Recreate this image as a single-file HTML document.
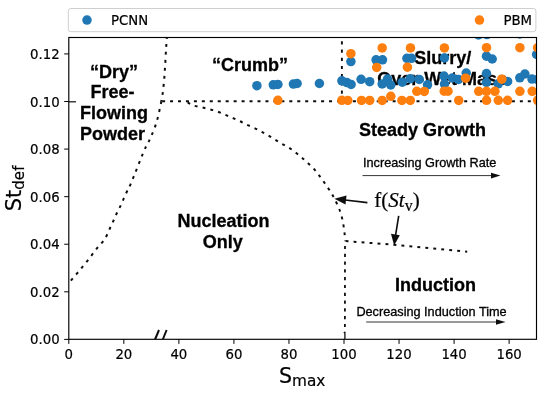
<!DOCTYPE html>
<html><head><meta charset="utf-8"><title>Regime map</title>
<style>
html,body{margin:0;padding:0;background:#fff;}
body{width:550px;height:394px;overflow:hidden;}
svg{display:block;}
.dv{font-family:"DejaVu Sans","Liberation Sans",sans-serif;fill:#000;stroke:#000;stroke-width:0.2px;}
.ab{font-family:"Liberation Sans",Arial,sans-serif;font-weight:bold;font-size:18px;fill:#000;text-anchor:middle;stroke:#000;stroke-width:0.3px;}
.ar{font-family:"Liberation Sans",Arial,sans-serif;font-size:12.7px;fill:#000;stroke:#000;stroke-width:0.32px;}
.tm{font-family:"Liberation Serif","Times New Roman",serif;fill:#000;}
.dot{fill:none;stroke:#111;stroke-width:2;stroke-dasharray:2.9 5.1;}
</style></head><body>
<svg width="550" height="394" viewBox="0 0 550 394">
<rect width="550" height="394" fill="#fff"/>
<defs><filter id="soft" x="-2%" y="-2%" width="104%" height="104%"><feGaussianBlur stdDeviation="0.38"/></filter><clipPath id="ax"><rect x="68.8" y="37.5" width="467.7" height="301.8"/></clipPath></defs>

<g clip-path="url(#ax)"><g filter="url(#soft)">
<path class="dot" d="M166.9 36.0 C166.8 38.0 166.4 43.5 166.1 48.0 C165.8 52.5 165.6 57.7 165.3 62.7 C165.0 67.7 164.7 73.0 164.3 78.1 C163.9 83.2 163.2 89.4 162.7 93.3 C162.2 97.2 161.5 100.0 161.3 101.3"/>
<path class="dot" d="M161.3 101.3 C161.1 102.4 160.9 104.2 160.0 108.0 C159.1 111.8 157.7 118.9 156.0 124.0 C154.3 129.1 152.1 134.2 150.1 138.7 C148.1 143.2 147.2 143.5 144.0 151.0 C140.8 158.5 133.7 176.8 130.9 183.5 C128.1 190.2 128.3 188.7 127.1 191.2 C125.9 193.7 124.8 196.2 123.7 198.7 C122.6 201.1 121.6 203.6 120.5 205.9 C119.4 208.2 118.1 210.5 117.0 212.8 C115.9 215.2 114.9 217.6 113.8 220.0 C112.7 222.4 111.4 225.1 110.3 227.5 C109.2 229.9 108.3 232.4 107.1 234.7 C105.9 237.0 104.6 239.3 103.1 241.3 C101.6 243.3 99.9 244.8 98.3 246.7 C96.7 248.6 95.1 250.7 93.5 252.8 C91.9 254.9 90.2 257.3 88.5 259.5 C86.8 261.7 84.9 263.9 83.1 266.1 C81.3 268.3 79.6 270.4 77.8 272.5 C76.0 274.6 74.1 276.8 72.5 278.7 C70.9 280.6 68.8 283.1 68.0 284.0"/>
<path class="dot" d="M162.1 101.3 L537 101.3" style="stroke-dasharray:3 4.95;stroke-width:1.9"/>
<path class="dot" d="M187.6 102.4 C188.6 102.9 191.3 104.7 193.6 105.5 C195.9 106.3 198.9 106.7 201.5 107.3 C204.1 107.9 206.4 108.4 209.1 109.1 C211.8 109.8 214.8 110.5 217.5 111.5 C220.2 112.5 222.7 113.8 225.2 114.8 C227.7 115.8 229.9 116.8 232.3 117.8 C234.7 118.8 237.3 119.9 239.7 121.1 C242.1 122.2 244.4 123.5 246.8 124.7 C249.2 125.9 251.9 126.8 254.4 128.0 C256.9 129.2 259.3 130.5 261.6 131.8 C263.9 133.1 266.1 134.2 268.4 135.6 C270.7 136.9 273.1 138.5 275.3 139.9 C277.6 141.3 279.6 142.5 281.9 143.8 C284.1 145.1 286.6 146.2 288.8 147.6 C291.0 149.0 293.1 150.6 295.2 152.2 C297.3 153.8 299.5 155.6 301.5 157.3 C303.5 159.0 305.1 160.5 307.1 162.3 C309.1 164.1 311.5 166.2 313.3 168.2 C315.1 170.1 316.5 172.0 318.0 174.0 C319.5 176.0 321.0 177.9 322.5 180.0 C324.0 182.1 325.4 184.2 326.9 186.3 C328.3 188.4 329.9 190.6 331.2 192.7 C332.5 194.8 333.4 196.6 334.6 199.0 C335.8 201.4 337.5 204.6 338.6 207.3 C339.7 210.1 340.6 212.6 341.4 215.5 C342.2 218.4 342.9 221.8 343.4 224.8 C343.9 227.8 344.3 231.0 344.6 233.7 C344.9 236.4 345.2 239.9 345.3 241.2"/>
<path class="dot" d="M345.0 245.9 L344.9 331" style="stroke-dasharray:3.2 4.6;stroke-width:1.8"/>
<path d="M344.9 331.8 V339.3 M344.9 332 L343.9 333.2" stroke="#111" stroke-width="1.3" fill="none"/>
<path class="dot" d="M345.6 241.1 L393.4 244.7 L467.2 251.8"/>
<path class="dot" d="M341.9 41.3 L341.9 101" style="stroke-dasharray:3.2 5.0;stroke-width:1.9"/>
<path d="M69 101.8 H76" stroke="#222" stroke-width="1.3"/>
<path d="M154.8 340 L159 330 M162.6 340 L166.6 330" stroke="#111" stroke-width="2" fill="none"/>
<text class="ab" x="114" y="77.8">“Dry”</text>
<text class="ab" x="112.6" y="97.6">Free-</text>
<text class="ab" x="114" y="118.6">Flowing</text>
<text class="ab" x="112.5" y="140">Powder</text>
<text class="ab" x="250" y="70.7">“Crumb”</text>
<text class="ab" x="442.8" y="63.5">Slurry/</text>
<text class="ab" x="442.2" y="84.5">Over-Wet Mass</text>
<text class="ab" x="422.6" y="135.6">Steady Growth</text>
<text class="ab" x="223.6" y="226.8">Nucleation</text>
<text class="ab" x="222.7" y="247.7">Only</text>
<text class="ab" x="435.4" y="290.5">Induction</text>
<text class="ar" x="363" y="166.6">Increasing Growth Rate</text>
<text class="ar" x="356.4" y="316.2">Decreasing Induction Time</text>
<path d="M362.5 175.6 H494" stroke="#333" stroke-width="1"/><path d="M500.5 175.6 L491 172.8 L491 178.4 Z" fill="#111"/>
<path d="M366.2 322 H499" stroke="#333" stroke-width="1"/><path d="M505.5 322 L496 319.2 L496 324.8 Z" fill="#111"/>
<text class="tm" x="374.3" y="206.9" font-size="21" stroke="#000" stroke-width="0.2"><tspan>f(</tspan><tspan font-style="italic">St</tspan><tspan font-size="16" dy="4.2">v</tspan><tspan dy="-4.2">)</tspan></text>
<path d="M367.4 202.6 L343 199.8" stroke="#111" stroke-width="1.6"/><path d="M334.4 198.8 L346.5 195.6 L345.5 204.6 Z" fill="#111"/>
<path d="M398.7 215.8 L395.3 237" stroke="#111" stroke-width="1.6"/><path d="M394.1 245.6 L391 233.8 L399.8 235.2 Z" fill="#111"/>
</g></g>
<g clip-path="url(#ax)" fill="#1f77b4">
<circle cx="256.9" cy="85.7" r="4.75"/>
<circle cx="273.3" cy="84.8" r="4.75"/>
<circle cx="277.9" cy="84.4" r="4.75"/>
<circle cx="293.4" cy="84.1" r="4.75"/>
<circle cx="297.1" cy="83.5" r="4.75"/>
<circle cx="319.4" cy="83.5" r="4.75"/>
<circle cx="341.9" cy="80.8" r="4.75"/>
<circle cx="346.9" cy="82.6" r="4.75"/>
<circle cx="351.1" cy="84.4" r="4.75"/>
<circle cx="361.1" cy="79.3" r="4.75"/>
<circle cx="369.7" cy="81.7" r="4.75"/>
<circle cx="382.2" cy="83.9" r="4.75"/>
<circle cx="387.5" cy="79.0" r="4.75"/>
<circle cx="390.8" cy="85.0" r="4.75"/>
<circle cx="402.3" cy="82.2" r="4.75"/>
<circle cx="350.9" cy="61.6" r="4.75"/>
<circle cx="376.1" cy="59.8" r="4.75"/>
<circle cx="382.5" cy="59.8" r="4.75"/>
<circle cx="406.9" cy="58.3" r="4.75"/>
<circle cx="411.5" cy="58.3" r="4.75"/>
<circle cx="444.4" cy="57.9" r="4.75"/>
<circle cx="410.3" cy="78.7" r="4.75"/>
<circle cx="419.2" cy="79.4" r="4.75"/>
<circle cx="427.5" cy="84.8" r="4.75"/>
<circle cx="444.0" cy="76.0" r="4.75"/>
<circle cx="444.5" cy="84.0" r="4.75"/>
<circle cx="452.3" cy="78.0" r="4.75"/>
<circle cx="458.6" cy="79.4" r="4.75"/>
<circle cx="466.2" cy="73.0" r="4.75"/>
<circle cx="486.5" cy="73.5" r="4.75"/>
<circle cx="486.5" cy="82.5" r="4.75"/>
<circle cx="498.2" cy="83.8" r="4.75"/>
<circle cx="507.6" cy="81.4" r="4.75"/>
<circle cx="519.8" cy="77.8" r="4.75"/>
<circle cx="524.9" cy="74.0" r="4.75"/>
<circle cx="532.0" cy="79.1" r="4.75"/>
<circle cx="537.4" cy="79.5" r="4.75"/>
<circle cx="486.5" cy="56.2" r="4.75"/>
<circle cx="492.2" cy="59.0" r="4.75"/>
<circle cx="536.6" cy="54.5" r="4.75"/>
<circle cx="478.5" cy="34.9" r="4.75"/>
<circle cx="486.9" cy="34.6" r="4.75"/>
<circle cx="519.8" cy="34.0" r="4.75"/>
</g><g clip-path="url(#ax)" fill="#ff7f0e">
<circle cx="277.9" cy="100.3" r="4.75"/>
<circle cx="341.8" cy="100.3" r="4.75"/>
<circle cx="347.8" cy="100.4" r="4.75"/>
<circle cx="361.5" cy="100.4" r="4.75"/>
<circle cx="369.7" cy="100.4" r="4.75"/>
<circle cx="382.2" cy="100.4" r="4.75"/>
<circle cx="401.9" cy="100.4" r="4.75"/>
<circle cx="410.3" cy="100.4" r="4.75"/>
<circle cx="458.7" cy="100.4" r="4.75"/>
<circle cx="486.5" cy="100.3" r="4.75"/>
<circle cx="498.3" cy="100.3" r="4.75"/>
<circle cx="507.6" cy="100.3" r="4.75"/>
<circle cx="537.6" cy="100.3" r="4.75"/>
<circle cx="390.8" cy="96.3" r="4.75"/>
<circle cx="350.9" cy="53.7" r="4.75"/>
<circle cx="382.2" cy="47.9" r="4.75"/>
<circle cx="410.5" cy="47.9" r="4.75"/>
<circle cx="444.4" cy="47.9" r="4.75"/>
<circle cx="486.5" cy="47.7" r="4.75"/>
<circle cx="519.9" cy="47.7" r="4.75"/>
<circle cx="537.6" cy="47.7" r="4.75"/>
<circle cx="376.7" cy="67.4" r="4.75"/>
<circle cx="407.4" cy="67.2" r="4.75"/>
<circle cx="416.8" cy="91.3" r="4.75"/>
<circle cx="424.3" cy="91.4" r="4.75"/>
<circle cx="444.2" cy="91.2" r="4.75"/>
<circle cx="448.0" cy="91.2" r="4.75"/>
<circle cx="478.7" cy="91.3" r="4.75"/>
<circle cx="486.5" cy="91.3" r="4.75"/>
<circle cx="494.9" cy="91.3" r="4.75"/>
<circle cx="519.9" cy="91.3" r="4.75"/>
<circle cx="532.2" cy="91.3" r="4.75"/>
<circle cx="465.6" cy="78.2" r="4.75"/>
<circle cx="501.8" cy="79.2" r="4.75"/>
</g>
<rect x="68.8" y="37.5" width="467.7" height="301.8" fill="none" stroke="#000" stroke-width="1.15"/>
<path d="M68.80 339.3 v4.6" stroke="#000" stroke-width="1"/>
<text class="dv" x="68.80" y="358.5" font-size="13.3" text-anchor="middle">0</text>
<path d="M123.84 339.3 v4.6" stroke="#000" stroke-width="1"/>
<text class="dv" x="123.84" y="358.5" font-size="13.3" text-anchor="middle">20</text>
<path d="M178.88 339.3 v4.6" stroke="#000" stroke-width="1"/>
<text class="dv" x="178.88" y="358.5" font-size="13.3" text-anchor="middle">40</text>
<path d="M233.92 339.3 v4.6" stroke="#000" stroke-width="1"/>
<text class="dv" x="233.92" y="358.5" font-size="13.3" text-anchor="middle">60</text>
<path d="M288.96 339.3 v4.6" stroke="#000" stroke-width="1"/>
<text class="dv" x="288.96" y="358.5" font-size="13.3" text-anchor="middle">80</text>
<path d="M344.00 339.3 v4.6" stroke="#000" stroke-width="1"/>
<text class="dv" x="344.00" y="358.5" font-size="13.3" text-anchor="middle">100</text>
<path d="M399.04 339.3 v4.6" stroke="#000" stroke-width="1"/>
<text class="dv" x="399.04" y="358.5" font-size="13.3" text-anchor="middle">120</text>
<path d="M454.08 339.3 v4.6" stroke="#000" stroke-width="1"/>
<text class="dv" x="454.08" y="358.5" font-size="13.3" text-anchor="middle">140</text>
<path d="M509.12 339.3 v4.6" stroke="#000" stroke-width="1"/>
<text class="dv" x="509.12" y="358.5" font-size="13.3" text-anchor="middle">160</text>
<path d="M68.8 339.40 h-4.6" stroke="#000" stroke-width="1"/>
<text class="dv" x="59.6" y="344.40" font-size="13.3" text-anchor="end">0.00</text>
<path d="M68.8 291.82 h-4.6" stroke="#000" stroke-width="1"/>
<text class="dv" x="59.6" y="296.82" font-size="13.3" text-anchor="end">0.02</text>
<path d="M68.8 244.24 h-4.6" stroke="#000" stroke-width="1"/>
<text class="dv" x="59.6" y="249.24" font-size="13.3" text-anchor="end">0.04</text>
<path d="M68.8 196.66 h-4.6" stroke="#000" stroke-width="1"/>
<text class="dv" x="59.6" y="201.66" font-size="13.3" text-anchor="end">0.06</text>
<path d="M68.8 149.08 h-4.6" stroke="#000" stroke-width="1"/>
<text class="dv" x="59.6" y="154.08" font-size="13.3" text-anchor="end">0.08</text>
<path d="M68.8 101.50 h-4.6" stroke="#000" stroke-width="1"/>
<text class="dv" x="59.6" y="106.50" font-size="13.3" text-anchor="end">0.10</text>
<path d="M68.8 53.92 h-4.6" stroke="#000" stroke-width="1"/>
<text class="dv" x="59.6" y="58.92" font-size="13.3" text-anchor="end">0.12</text>
<text class="dv" x="279" y="383.1" font-size="20.6">S<tspan font-size="15.3" dy="2.8">max</tspan></text>
<text class="dv" transform="translate(21.1,211.3) rotate(-90)" font-size="21">St<tspan font-size="15.1" dy="2.6">def</tspan></text>
<rect x="68.3" y="8.5" width="467.6" height="23.2" rx="2.6" ry="2.6" fill="#fff" stroke="#cfcfcf" stroke-width="1"/>
<circle cx="87" cy="20.1" r="4.75" fill="#1f77b4"/>
<text class="dv" x="111" y="24.9" font-size="13.3">PCNN</text>
<circle cx="479.5" cy="20.1" r="4.75" fill="#ff7f0e"/>
<text class="dv" x="503.4" y="24.9" font-size="13.3">PBM</text>
</svg></body></html>
